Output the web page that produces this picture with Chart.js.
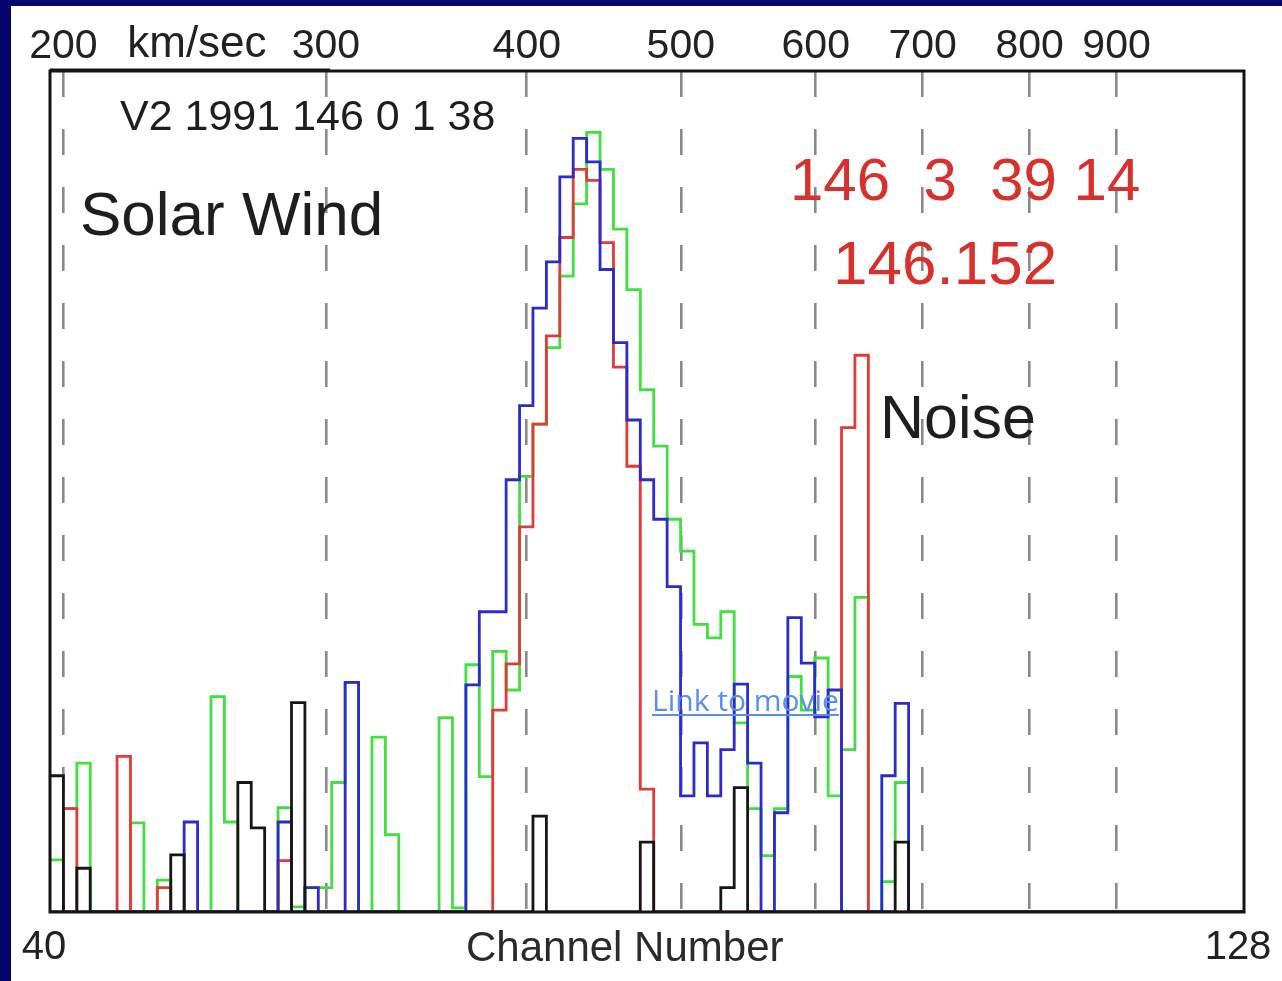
<!DOCTYPE html>
<html>
<head>
<meta charset="utf-8">
<script src="https://cdn.jsdelivr.net/npm/chart.js@4.4.0/dist/chart.umd.min.js"></script>
<style>
  html, body { margin: 0; padding: 0; background: #07046e; }
  #spectrum { display: block; }
</style>
</head>
<body>
<canvas id="spectrum" width="1282" height="981"></canvas>
<script>
// channel numbers 40..128, one bin per channel
const channels = Array.from({ length: 89 }, (_, i) => 40 + i);

// counts per channel (arbitrary units)
const blackCounts = [
  16.2, 0, 5.2, 0, 0, 0, 0, 0, 0, 6.8,
  0, 0, 0, 0, 15.4, 10, 0, 0, 24.9, 0,
  0, 0, 0, 0, 0, 0, 0, 0, 0, 0,
  0, 0, 0, 0, 0, 0, 11.4, 0, 0, 0,
  0, 0, 0, 0, 8.3, 0, 0, 0, 0, 0,
  2.9, 14.8, 0, 0, 0, 0, 0, 0, 0, 0,
  0, 0, 0, 8.3, 0, 0, 0, 0, 0, 0,
  0, 0, 0, 0, 0, 0, 0, 0, 0, 0,
  0, 0, 0, 0, 0, 0, 0, 0, 0
];
const redCounts = [
  0, 12.3, 0, 0, 0, 18.5, 0, 0, 2.9, 0,
  0, 0, 0, 0, 0, 0, 0, 6.1, 0, 0,
  0, 0, 0, 0, 0, 0, 0, 0, 0, 0,
  0, 0, 0, 24.0, 29.5, 45.8, 58.0, 68.5, 80.2, 88.3,
  87.0, 79.6, 64.8, 53.0, 14.6, 0, 0, 0, 0, 0,
  0, 0, 0, 0, 0, 0, 0, 0, 0, 57.6,
  66.2, 0, 0, 0, 0, 0, 0, 0, 0, 0,
  0, 0, 0, 0, 0, 0, 0, 0, 0, 0,
  0, 0, 0, 0, 0, 0, 0, 0, 0
];
const blueCounts = [
  0, 0, 0, 0, 0, 0, 0, 0, 0, 0,
  10.7, 0, 0, 0, 0, 0, 0, 10.7, 0, 2.9,
  0, 0, 27.3, 0, 0, 0, 0, 0, 0, 0,
  0, 27.0, 35.7, 35.7, 51.4, 60.2, 71.8, 77.3, 87.4, 92.0,
  89.2, 76.4, 67.7, 58.5, 51.4, 46.7, 38.7, 13.8, 20.1, 13.8,
  19.3, 27.1, 17.7, 0, 11.8, 35.0, 29.6, 23.2, 26.4, 0,
  0, 0, 16.2, 24.8, 0, 0, 0, 0, 0, 0,
  0, 0, 0, 0, 0, 0, 0, 0, 0, 0,
  0, 0, 0, 0, 0, 0, 0, 0, 0
];
const greenCounts = [
  6.2, 12.3, 17.7, 0, 0, 0, 10.6, 0, 3.8, 0,
  0, 0, 25.6, 10.7, 0, 0, 0, 12.4, 0.6, 2.9,
  2.9, 15.4, 27.3, 0, 20.8, 9.2, 0, 0, 0, 23.1,
  0.5, 29.4, 16.1, 31.0, 26.4, 51.8, 58.0, 67.1, 75.6, 84.2,
  92.7, 88.3, 81.2, 74.0, 62.1, 55.4, 46.7, 42.9, 34.2, 32.6,
  35.7, 22.5, 12.3, 6.7, 12.3, 28.0, 24.0, 30.2, 13.8, 19.3,
  37.4, 0, 3.6, 15.4, 0, 0, 0, 0, 0, 0,
  0, 0, 0, 0, 0, 0, 0, 0, 0, 0,
  0, 0, 0, 0, 0, 0, 0, 0, 0
];

// top axis: speed labels and the channel where each falls
const speedLabels = ['200', 'km/sec', '300', '400', '500', '600', '700', '800', '900'];
const speedChannels = [40.5, 50.45, 60.07, 75.04, 86.52, 96.58, 104.55, 112.52, 119.0];

// bottom axis end labels
const channelTickLabels = ['40', '128'];

const FONT = '"Liberation Sans", Arial, Helvetica, sans-serif';

// step outline: each bin starts at channel - 0.5, closed at the last bin's right edge
function toSteps(counts) {
  const pts = counts.map((v, i) => ({ x: channels[i] - 0.5, y: v }));
  pts.push({ x: channels[channels.length - 1] + 0.5, y: counts[counts.length - 1] });
  return pts;
}

function series(label, counts, color) {
  return {
    label: label,
    data: toSteps(counts),
    borderColor: color,
    borderWidth: 2.8,
    stepped: 'before',
    fill: false,
    pointRadius: 0,
    tension: 0,
    xAxisID: 'x',
    yAxisID: 'y'
  };
}

const pagePlugin = {
  id: 'page',
  beforeDraw(chart) {
    const c = chart.ctx;
    c.save();
    c.fillStyle = '#07046e';
    c.fillRect(0, 0, chart.width, chart.height);
    c.fillStyle = '#ffffff';
    c.fillRect(11, 6, chart.width - 11, chart.height - 6);
    c.restore();
  },
  afterDatasetsDraw(chart) {
    const a = chart.chartArea;
    const c = chart.ctx;
    c.save();
    c.strokeStyle = '#141414';
    c.lineWidth = 3;
    c.strokeRect(a.left, a.top, a.right - a.left, a.bottom - a.top);
    // heavier rule under the "200 km/sec 300" label
    c.lineWidth = 2;
    c.beginPath();
    c.moveTo(a.left, a.top - 1.5);
    c.lineTo(chart.scales.speed.getPixelForValue(speedChannels[2]) + 4, a.top - 1.5);
    c.stroke();
    c.restore();
  },
  afterDraw(chart) {
    const c = chart.ctx;
    c.save();
    c.textBaseline = 'alphabetic';
    c.textAlign = 'left';

    c.fillStyle = '#1e1e1e';
    c.font = '43px ' + FONT;
    c.fillText('V2 1991 146 0 1 38', 120, 130);

    c.font = '62px ' + FONT;
    c.fillText('Solar Wind', 80, 235);

    c.font = '61px ' + FONT;
    c.fillText('Noise', 880, 438);

    c.fillStyle = '#d8302c';
    c.font = '60px ' + FONT;
    c.fillText('146  3  39 14', 790, 200);
    c.font = '62px ' + FONT;
    c.fillText('146.152', 833, 284);

    c.fillStyle = '#2a2a2a';
    c.font = '42px ' + FONT;
    c.fillText('Channel Number', 466, 961);

    // hyperlink text
    c.fillStyle = '#5b8ef0';
    c.font = '30px "Open Sans", "Noto Sans", sans-serif';
    c.fillText('Link to movie', 652, 711);
    const w = c.measureText('Link to movie').width;
    c.fillRect(652, 714, w, 2);
    c.restore();
  }
};

new Chart(document.getElementById('spectrum'), {
  type: 'line',
  data: {
    datasets: [
      series('black', blackCounts, '#161616'),
      series('blue', blueCounts, '#2b2bd0'),
      series('red', redCounts, '#e23a36'),
      series('green', greenCounts, '#3fe03f')
    ]
  },
  options: {
    responsive: false,
    animation: false,
    devicePixelRatio: 1,
    layout: { padding: { left: 50, right: 38, top: 0, bottom: 0 } },
    plugins: { legend: { display: false }, tooltip: { enabled: false } },
    scales: {
      x: {
        type: 'linear',
        position: 'bottom',
        min: 39.5,
        max: 128.5,
        afterBuildTicks: s => { s.ticks = [{ value: 39.5 }, { value: 128.5 }]; },
        afterFit: s => { s.height = 69; },
        ticks: {
          callback: (v, i) => channelTickLabels[i],
          font: { family: FONT, size: 40 },
          color: '#222',
          padding: 4,
          labelOffset: -6,
          autoSkip: false,
          maxRotation: 0
        },
        grid: { display: false },
        border: { display: false }
      },
      speed: {
        type: 'linear',
        position: 'top',
        min: 39.5,
        max: 128.5,
        afterBuildTicks: s => { s.ticks = speedChannels.map(v => ({ value: v })); },
        afterFit: s => { s.height = 71; },
        ticks: {
          callback: (v, i) => speedLabels[i],
          font: ctx => ({ family: FONT, size: ctx.index === 1 ? 44 : 41 }),
          color: '#222',
          padding: 0,
          autoSkip: false,
          maxRotation: 0
        },
        grid: {
          drawTicks: false,
          lineWidth: 2.6,
          color: ctx => (ctx.index === 1 ? 'rgba(0,0,0,0)' : '#8a8a8a')
        },
        border: { display: false, dash: [26, 32] }
      },
      y: { display: false, min: 0, max: 100 }
    }
  },
  plugins: [pagePlugin]
});
</script>
</body>
</html>
